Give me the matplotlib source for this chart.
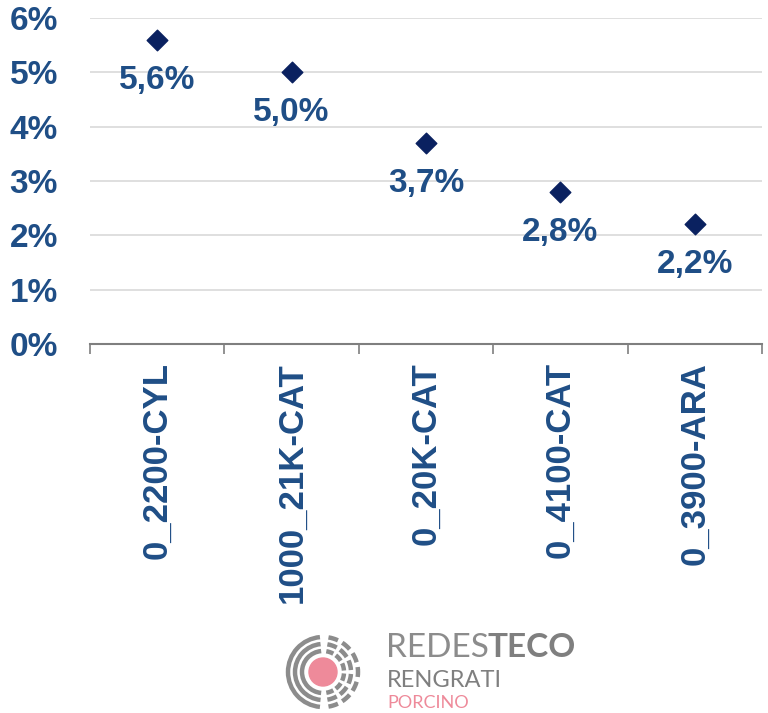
import matplotlib
matplotlib.use("Agg")
import matplotlib.pyplot as plt
from matplotlib.patches import Arc, Circle
import numpy as np

categories = ["0_2200-CYL", "1000_21K-CAT", "0_20K-CAT", "0_4100-CAT", "0_3900-ARA"]
values = [5.6, 5.0, 3.7, 2.8, 2.2]
value_labels = ["5,6%", "5,0%", "3,7%", "2,8%", "2,2%"]
yticks = [0, 1, 2, 3, 4, 5, 6]
ytick_labels = ["0%", "1%", "2%", "3%", "4%", "5%", "6%"]

W, H = 768, 713
fig = plt.figure(figsize=(W / 100, H / 100), dpi=100)
plt.rcParams['font.family'] = ['Liberation Sans', 'DejaVu Sans']

text_blue = "#1F4E86"
marker_blue = "#0A2160"

ax = fig.add_axes([90 / W, 1 - 344 / H, (762 - 90) / W, (344 - 18) / H])
x = np.arange(len(categories))
ax.set_xlim(-0.5, len(categories) - 0.5)
ax.set_ylim(0, 6)

ax.set_yticks(yticks)
ax.set_yticklabels(ytick_labels, fontsize=24, fontweight='bold', color=text_blue)
ax.tick_params(axis='y', length=0, pad=23)

ax.grid(axis='y', color='#D9D9D9', linewidth=1.2)
ax.set_axisbelow(True)
for s in ['left', 'right', 'top']:
    ax.spines[s].set_visible(False)
ax.spines['bottom'].set_color('#7F7F7F')
ax.spines['bottom'].set_linewidth(1.5)

# category boundary ticks
ax.set_xticks(np.arange(-0.5, len(categories) + 0.5, 1.0))
ax.set_xticklabels([])
ax.tick_params(axis='x', length=7, width=1.2, color='#7F7F7F', direction='out')
ax.set_xticks(x, minor=True)
ax.set_xticklabels(categories, minor=True, rotation=90, fontsize=25,
                   fontweight='bold', color=text_blue, va='top', ha='center')
ax.tick_params(axis='x', which='minor', length=0, pad=13)

ax.scatter(x, values, marker='D', s=110, color=marker_blue, zorder=3, clip_on=False)
for xi, v, lab in zip(x, values, value_labels):
    ax.annotate(lab, (xi, v), xytext=(0, -18), textcoords='offset points',
                ha='center', va='top', fontsize=24, fontweight='bold', color=text_blue)

# logo
lax = fig.add_axes([0, 0, 1, 1], facecolor='none')
lax.set_xlim(0, W)
lax.set_ylim(H, 0)
lax.axis('off')
cx, cy = 323, 672
gray = '#8C8C8C'
lax.add_patch(Circle((cx, cy), 14, color='#EE8A9A', zorder=3))
for r in [21, 28, 35]:
    lax.add_patch(Arc((cx, cy), 2 * r, 2 * r, theta1=95, theta2=265, color=gray, lw=3.2))
    n = 4 + r // 10
    span = 170 / n
    for i in range(n):
        a0 = -85 + i * span
        lax.add_patch(Arc((cx, cy), 2 * r, 2 * r, theta1=a0 + 4, theta2=a0 + span - 4,
                          color=gray, lw=3.2))

lax.text(386, 657, "REDES", fontsize=24, color='#8C8C8C', family='Lato',
         va='baseline', ha='left')
lax.text(488, 657, "TECO", fontsize=24, color='#7F7F7F', family='Lato',
         fontweight='bold', va='baseline', ha='left')
lax.text(387, 687, "RENGRATI", fontsize=17, color='#7F7F7F', family='Lato',
         va='baseline', ha='left')
lax.text(387, 708, "PORCINO", fontsize=13, color='#EE8A9A', family='Lato',
         va='baseline', ha='left')

fig.savefig("out.png", dpi=100)
